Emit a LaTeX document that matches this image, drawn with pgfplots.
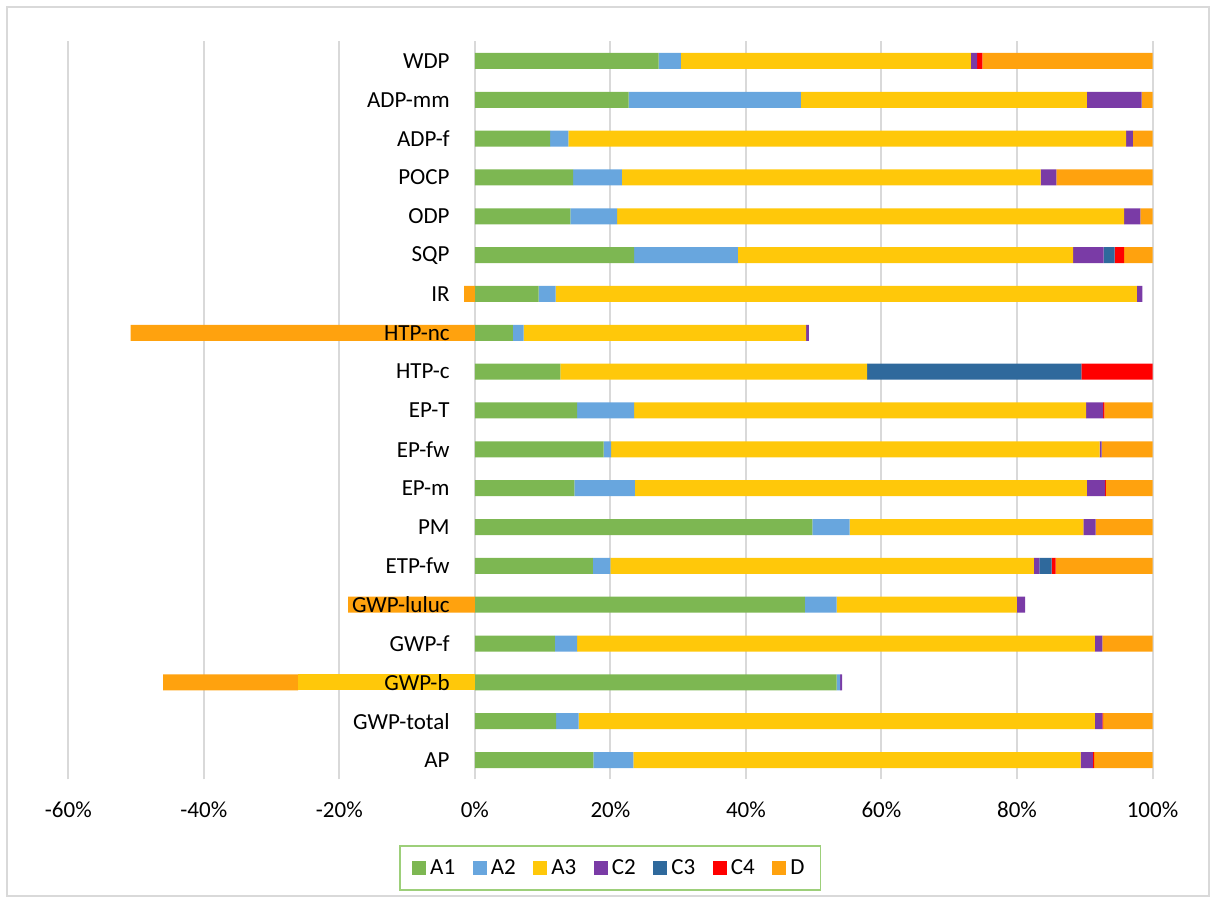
\documentclass[border=0pt]{standalone}
\usepackage{fontspec}
\setmainfont{Carlito}
\usepackage{pgfplots}
\usepackage{pgfplotstable}
\pgfplotsset{compat=1.18}

\definecolor{cA1}{HTML}{7DB752}
\definecolor{cA2}{HTML}{68A6DE}
\definecolor{cA3}{HTML}{FFC80A}
\definecolor{cC2}{HTML}{7A3BA6}
\definecolor{cC3}{HTML}{2F699C}
\definecolor{cC4}{HTML}{FF0000}
\definecolor{cD}{HTML}{FFA20E}
\definecolor{gridgray}{HTML}{D9D9D9}
\definecolor{legendgreen}{HTML}{9DCF7A}

% positive contributions (bottom to top: AP ... WDP)
\pgfplotstableread{
idx A1   A2   A3   C2  C3   C4   D
0   17.5 5.9  66.0 1.8 0    0.2  8.6
1   12.0 3.3  76.2 1.1 0    0.1  7.3
2   53.4 0.5  0    0.3 0    0    0
3   11.8 3.3  76.4 1.1 0    0    7.4
4   48.7 4.7  26.6 1.2 0    0    0
5   17.4 2.6  62.5 0.8 1.8  0.6  14.3
6   49.8 5.5  34.5 1.8 0    0    8.4
7   14.7 8.9  66.7 2.7 0    0.1  6.9
8   19.0 1.1  72.1 0.3 0    0    7.5
9   15.1 8.4  66.7 2.5 0    0.2  7.1
10  12.6 0    45.3 0   31.6 10.5 0
11  5.6  1.6  41.7 0.4 0    0    0
12  9.4  2.5  85.8 0.8 0    0    0
13  23.5 15.3 49.5 4.5 1.6  1.4  4.2
14  14.1 6.9  74.8 2.4 0    0    1.8
15  14.5 7.2  61.8 2.3 0    0    14.2
16  11.1 2.7  82.3 1.0 0    0    2.9
17  22.7 25.4 42.2 8.1 0    0    1.6
18  27.1 3.3  42.8 0.9 0    0.8  25.1
}\postab

% negative contributions
\pgfplotstableread{
idx A3    D
0   0     0
1   0     0
2   -26.1 -19.9
3   0     0
4   0     -18.7
5   0     0
6   0     0
7   0     0
8   0     0
9   0     0
10  0     0
11  0     -50.8
12  0     -1.6
13  0     0
14  0     0
15  0     0
16  0     0
17  0     0
18  0     0
}\negtab

\pgfplotsset{
  sq/.style={legend image code/.code={\fill[##1] (0pt,-3.5pt) rectangle (7pt,3.5pt);}},
  common/.style={
    scale only axis, width=542.1pt, height=369pt,
    xmin=-60, xmax=100, ymin=-0.5, ymax=18.5,
    at={(0pt,0pt)}, anchor=south west,
    axis line style={draw=none},
    major tick length=0pt,
    xbar stacked, bar width=8pt,
    tick label style={font=\fontsize{11.5}{13}\selectfont},
  }
}

\begin{document}
\begin{tikzpicture}
\useasboundingbox (-34.15pt,-59.75pt) rectangle (571.85pt,389.75pt);
\draw[color=gridgray, line width=1pt] (-30.65pt,-58.25pt) rectangle (570.35pt,386.25pt);

\begin{axis}[common,
  xtick={-60,-40,-20,0,20,40,60,80,100},
  xticklabels={-60\%,-40\%,-20\%,0\%,20\%,40\%,60\%,80\%,100\%},
  xticklabel style={anchor=base, yshift=-19.25pt},
  ytick=\empty,
  xmajorgrids, grid style={draw=gridgray, line width=1pt},
  legend columns=7,
  legend style={at={(0.5,0)}, anchor=center, yshift=-44.25pt,
    draw=legendgreen, line width=0.8pt, inner xsep=6pt, inner ysep=4pt,
    font=\fontsize{11.5}{13}\selectfont,
    /tikz/every even column/.append style={column sep=6.8pt},
    cells={anchor=west, text height=8.5pt, text depth=2pt}},
]
\addplot[fill=cA1, draw=none, sq] table[x=A1, y=idx]{\postab};
\addplot[fill=cA2, draw=none, sq] table[x=A2, y=idx]{\postab};
\addplot[fill=cA3, draw=none, sq] table[x=A3, y=idx]{\postab};
\addplot[fill=cC2, draw=none, sq] table[x=C2, y=idx]{\postab};
\addplot[fill=cC3, draw=none, sq] table[x=C3, y=idx]{\postab};
\addplot[fill=cC4, draw=none, sq] table[x=C4, y=idx]{\postab};
\addplot[fill=cD, draw=none, sq] table[x=D, y=idx]{\postab};
\legend{A1,A2,A3,C2,C3,C4,D}
\end{axis}

\begin{axis}[common, axis on top,
  xtick=\empty,
  ytick={0,...,18},
  yticklabels={AP,GWP-total,GWP-b,GWP-f,GWP-luluc,ETP-fw,PM,EP-m,EP-fw,EP-T,HTP-c,HTP-nc,IR,SQP,ODP,POCP,ADP-f,ADP-mm,WDP},
  yticklabel style={anchor=east, inner sep=0pt, xshift=190.85pt},
]
\addplot[fill=cA3, draw=none] table[x=A3, y=idx]{\negtab};
\addplot[fill=cD, draw=none] table[x=D, y=idx]{\negtab};
\end{axis}
\end{tikzpicture}
\end{document}
